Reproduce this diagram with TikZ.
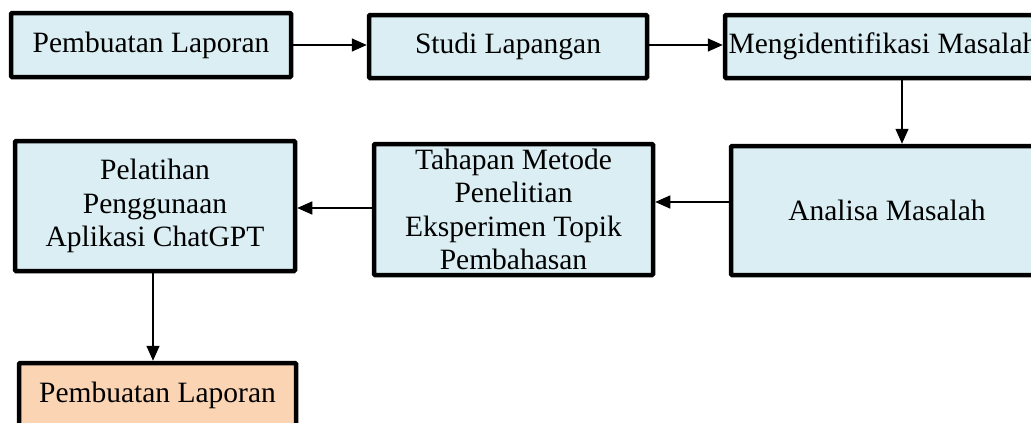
\documentclass[tikz,border=0pt]{standalone}
\usepackage{fontspec}
\setmainfont{Liberation Serif}
\usetikzlibrary{arrows.meta}
\definecolor{stepblue}{HTML}{DAEEF3}
\definecolor{steporange}{HTML}{FBD4B4}
\tikzset{
  stepbox/.style={draw=black, line width=4.5pt, rounded corners=1pt, fill=stepblue,
    inner sep=0pt, align=center, font=\fontsize{29.5}{33.5}\selectfont},
  flow/.style={line width=1.5pt, -{Triangle[length=15pt,width=13pt]}}
}
\begin{document}
\begin{tikzpicture}[x=1pt,y=-1pt]
  \useasboundingbox (0,0) rectangle (1031,423);
  \clip (0,0) rectangle (1031,423);
  \fill[white] (0,0) rectangle (1031,423);

  % first row
  \node[stepbox, minimum width=280pt, minimum height=64pt] (b1) at (151,45) {Pembuatan Laporan};
  \node[stepbox, minimum width=278pt, minimum height=63pt] (b2) at (508,46.5) {Studi Lapangan};
  \node[stepbox, minimum width=316pt, minimum height=63pt] (b3) at (883,46.5) {Mengidentifikasi Masalah};

  % second row
  \node[stepbox, minimum width=312pt, minimum height=129pt] (b4) at (887,210.5) {Analisa Masalah};
  \node[stepbox, minimum width=279pt, minimum height=131pt] (b5) at (513.5,209.5)
    {Tahapan Metode\\Penelitian\\Eksperimen Topik\\Pembahasan};
  \node[stepbox, minimum width=280pt, minimum height=130pt] (b6) at (155,206)
    {Pelatihan\\Penggunaan\\Aplikasi ChatGPT};

  % last step
  \node[stepbox, fill=steporange, minimum width=277pt, minimum height=64pt] (b7) at (157.5,395) {Pembuatan Laporan};

  % connectors
  \draw[flow] (b1.east) -- (b1.east -| b2.west);
  \draw[flow] ([yshift=1.5pt]b2.east) -- ([yshift=1.5pt]b2.east -| b3.west);
  \draw[flow] ([xshift=19pt]b3.south) -- ([xshift=19pt]b3.south |- b4.north);
  \draw[flow] ([yshift=8.5pt]b4.west) -- ([yshift=8.5pt]b4.west -| b5.east);
  \draw[flow] ([yshift=1.5pt]b5.west) -- ([yshift=1.5pt]b5.west -| b6.east);
  \draw[flow] ([xshift=-2pt]b6.south) -- ([xshift=-2pt]b6.south |- b7.north);
\end{tikzpicture}
\end{document}
